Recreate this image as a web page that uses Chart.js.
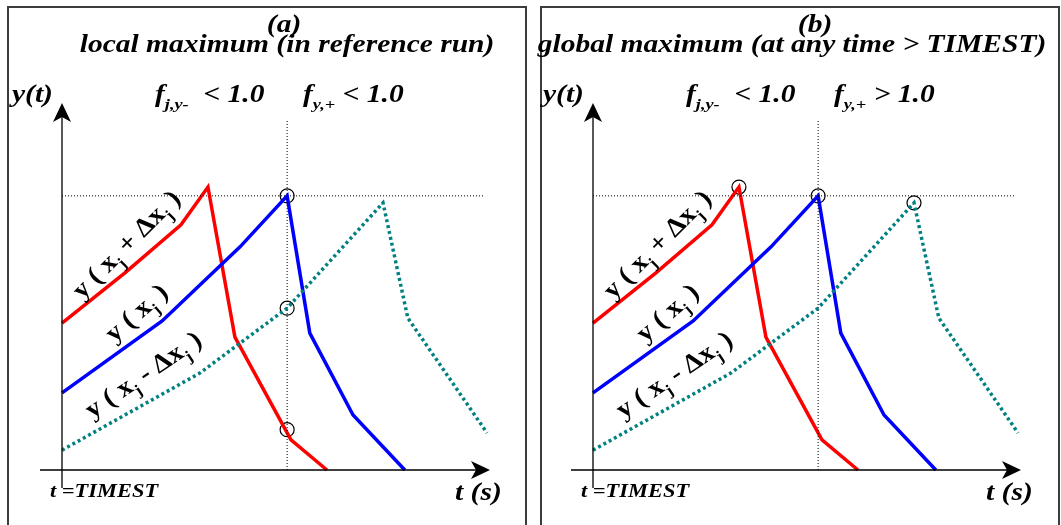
<!DOCTYPE html>
<html>
<head>
<meta charset="utf-8">
<script src="https://cdn.jsdelivr.net/npm/chart.js@4.4.1/dist/chart.umd.min.js"></script>
<style>
    body { margin: 0; background: #fff; width: 1061px; height: 525px; overflow: hidden; position: relative; }
    .panel { position: absolute; top: 6px; width: 520px; height: 540px; border: 2px solid #3c3c3c; box-sizing: border-box; }
    #panelA { left: 7px; }
    #panelB { left: 540px; }
    canvas { position: absolute; top: 0; }
    #chartA { left: 0; }
    #chartB { left: 531px; }
</style>
</head>
<body>
<div class="panel" id="panelA"></div>
<div class="panel" id="panelB"></div>
<canvas id="chartA" width="530" height="525" style="width:530px;height:525px"></canvas>
<canvas id="chartB" width="530" height="525" style="width:530px;height:525px"></canvas>
<script>
// time runs 0..100 from t = TIMEST to the end of the axis, y(t) 0..100
const redT = [0, 14.7, 27.8, 34.1, 40.4, 53.5, 61.9];
const redY = [40, 53.7, 66.8, 77.1, 36.2, 8.2, 0];

const blueT = [0, 23.4, 41.6, 52.6, 57.9, 68.0, 80.1];
const blueY = [21.0, 40.6, 60.8, 74.7, 37.3, 15.0, 0];

const tealT = [0, 32.2, 52.6, 75.0, 80.8, 89.5, 99.3];
const tealY = [5.4, 26.4, 44.1, 72.8, 41.4, 26.7, 10.1];

// dotted guides through the maximum of y(x_j)
const guideT = [0, 98.6];
const guideY = [74.7, 74.7];
const timestT = [52.6, 52.6];
const timestY = [0, 95.4];

// circled points
const markA_T = [52.6, 52.6, 52.6];
const markA_Y = [74.7, 44.1, 11.0];
const markB_T = [34.1, 52.6, 75.0];
const markB_Y = [77.1, 74.7, 72.8];

const panels = [
    {
        id: 'chartA',
        tag: '(a)',
        title: 'local maximum (in reference run)',
        titleX: 287,
        fPlus: '< 1.0',
        markT: markA_T,
        markY: markA_Y
    },
    {
        id: 'chartB',
        tag: '(b)',
        title: 'global maximum (at any time > TIMEST)',
        titleX: 261,
        fPlus: '> 1.0',
        markT: markB_T,
        markY: markB_Y
    }
];

const SERIF = '"Liberation Serif", "DejaVu Serif", serif';
const STRETCH = 1.18; // the original lettering is wider than Liberation Serif

function toPoints(xs, ys) {
    return xs.map((x, i) => ({ x: x, y: ys[i] }));
}

// draws text runs (some of them subscripts) from (x, y), stretched by sx
function drawRuns(ctx, parts, x, y, size, style, sx) {
    ctx.save();
    ctx.translate(x, y);
    ctx.scale(sx, 1);
    let cx = 0;
    parts.forEach(([text, sub]) => {
        const fs = sub ? size * 0.62 : size;
        ctx.font = `${style} ${fs}px ${SERIF}`;
        ctx.fillText(text, cx, sub ? size * 0.28 : 0);
        cx += ctx.measureText(text).width;
    });
    ctx.restore();
}

function stretchedText(ctx, text, x, y, size, align) {
    ctx.save();
    ctx.translate(x, y);
    ctx.scale(STRETCH, 1);
    ctx.textAlign = align;
    ctx.font = `bold italic ${size}px ${SERIF}`;
    ctx.fillText(text, 0, 0);
    ctx.restore();
}

function arrowHead(ctx, x, y, dir) {
    ctx.save();
    ctx.translate(x, y);
    if (dir === 'right') ctx.rotate(Math.PI / 2);
    ctx.beginPath();
    ctx.moveTo(0, 0);
    ctx.lineTo(-9, 19);
    ctx.lineTo(0, 14);
    ctx.lineTo(9, 19);
    ctx.closePath();
    ctx.fill();
    ctx.restore();
}

const decorations = {
    id: 'decorations',
    afterDraw(chart, args, opts) {
        const ctx = chart.ctx;
        const xs = chart.scales.x;
        const ys = chart.scales.y;
        const x0 = xs.getPixelForValue(0);
        const y0 = ys.getPixelForValue(0);
        const xEnd = xs.getPixelForValue(100);
        const yEnd = ys.getPixelForValue(100);

        ctx.save();
        ctx.strokeStyle = '#000';
        ctx.fillStyle = '#000';
        ctx.lineWidth = 1.3;

        // axes
        ctx.beginPath();
        ctx.moveTo(x0, y0 + 18);
        ctx.lineTo(x0, yEnd + 12);
        ctx.moveTo(x0 - 22, y0);
        ctx.lineTo(xEnd - 12, y0);
        ctx.stroke();
        arrowHead(ctx, x0, yEnd, 'up');
        arrowHead(ctx, xEnd, y0, 'right');

        // titles
        ctx.textBaseline = 'alphabetic';
        stretchedText(ctx, opts.tag, 284, 32, 25, 'center');
        stretchedText(ctx, opts.title, opts.titleX, 52, 25, 'center');
        stretchedText(ctx, 'y(t)', 12, 102, 25, 'left');

        drawRuns(ctx, [['f', 0], ['j,y-', 1], ['  < 1.0', 0]], 155, 102, 25, 'bold italic', STRETCH);
        drawRuns(ctx, [['f', 0], ['y,+', 1], [' ' + opts.fPlus, 0]], 303, 102, 25, 'bold italic', STRETCH);

        stretchedText(ctx, 't =TIMEST', 50, 497, 19, 'left');
        stretchedText(ctx, 't (s)', 455, 500, 25, 'left');

        // curve labels along the rising parts
        const labels = [
            { parts: [['y ( x', 0], ['j', 1], [' + Δx', 0], ['j', 1], [' )', 0]], x: 82, y: 300, a: -45 },
            { parts: [['y ( x', 0], ['j', 1], [' )', 0]], x: 114, y: 343, a: -41 },
            { parts: [['y ( x', 0], ['j', 1], [' - Δx', 0], ['j', 1], [' )', 0]], x: 92, y: 419, a: -34 }
        ];
        labels.forEach(l => {
            ctx.save();
            ctx.translate(l.x, l.y);
            ctx.rotate(l.a * Math.PI / 180);
            drawRuns(ctx, l.parts, 0, 0, 26, 'bold', 1.08);
            ctx.restore();
        });

        ctx.restore();
    }
};

function makeChart(p) {
    const ctx = document.getElementById(p.id).getContext('2d');
    return new Chart(ctx, {
        type: 'line',
        data: {
            datasets: [
                {
                    data: toPoints(guideT, guideY),
                    borderColor: '#000',
                    borderWidth: 1,
                    borderDash: [1, 2],
                    pointRadius: 0
                },
                {
                    data: toPoints(timestT, timestY),
                    borderColor: '#000',
                    borderWidth: 1,
                    borderDash: [1, 2],
                    pointRadius: 0
                },
                {
                    data: toPoints(tealT, tealY),
                    borderColor: '#008080',
                    borderWidth: 3.5,
                    borderDash: [3, 3],
                    pointRadius: 0
                },
                {
                    data: toPoints(blueT, blueY),
                    borderColor: '#0000ff',
                    borderWidth: 3.5,
                    pointRadius: 0
                },
                {
                    data: toPoints(redT, redY),
                    borderColor: '#ff0000',
                    borderWidth: 3.5,
                    pointRadius: 0
                },
                {
                    data: toPoints(p.markT, p.markY),
                    showLine: false,
                    pointRadius: 7,
                    pointBorderColor: '#000',
                    pointBorderWidth: 1.2,
                    pointBackgroundColor: 'rgba(0,0,0,0)'
                }
            ]
        },
        options: {
            responsive: false,
            animation: false,
            devicePixelRatio: 1,
            tension: 0,
            clip: false,
            layout: {
                padding: { left: 62, right: 40, top: 103, bottom: 55 }
            },
            plugins: {
                legend: { display: false },
                tooltip: { enabled: false },
                decorations: p
            },
            scales: {
                x: { type: 'linear', min: 0, max: 100, display: false },
                y: { type: 'linear', min: 0, max: 100, display: false }
            }
        },
        plugins: [decorations]
    });
}

panels.forEach(makeChart);
</script>
</body>
</html>
